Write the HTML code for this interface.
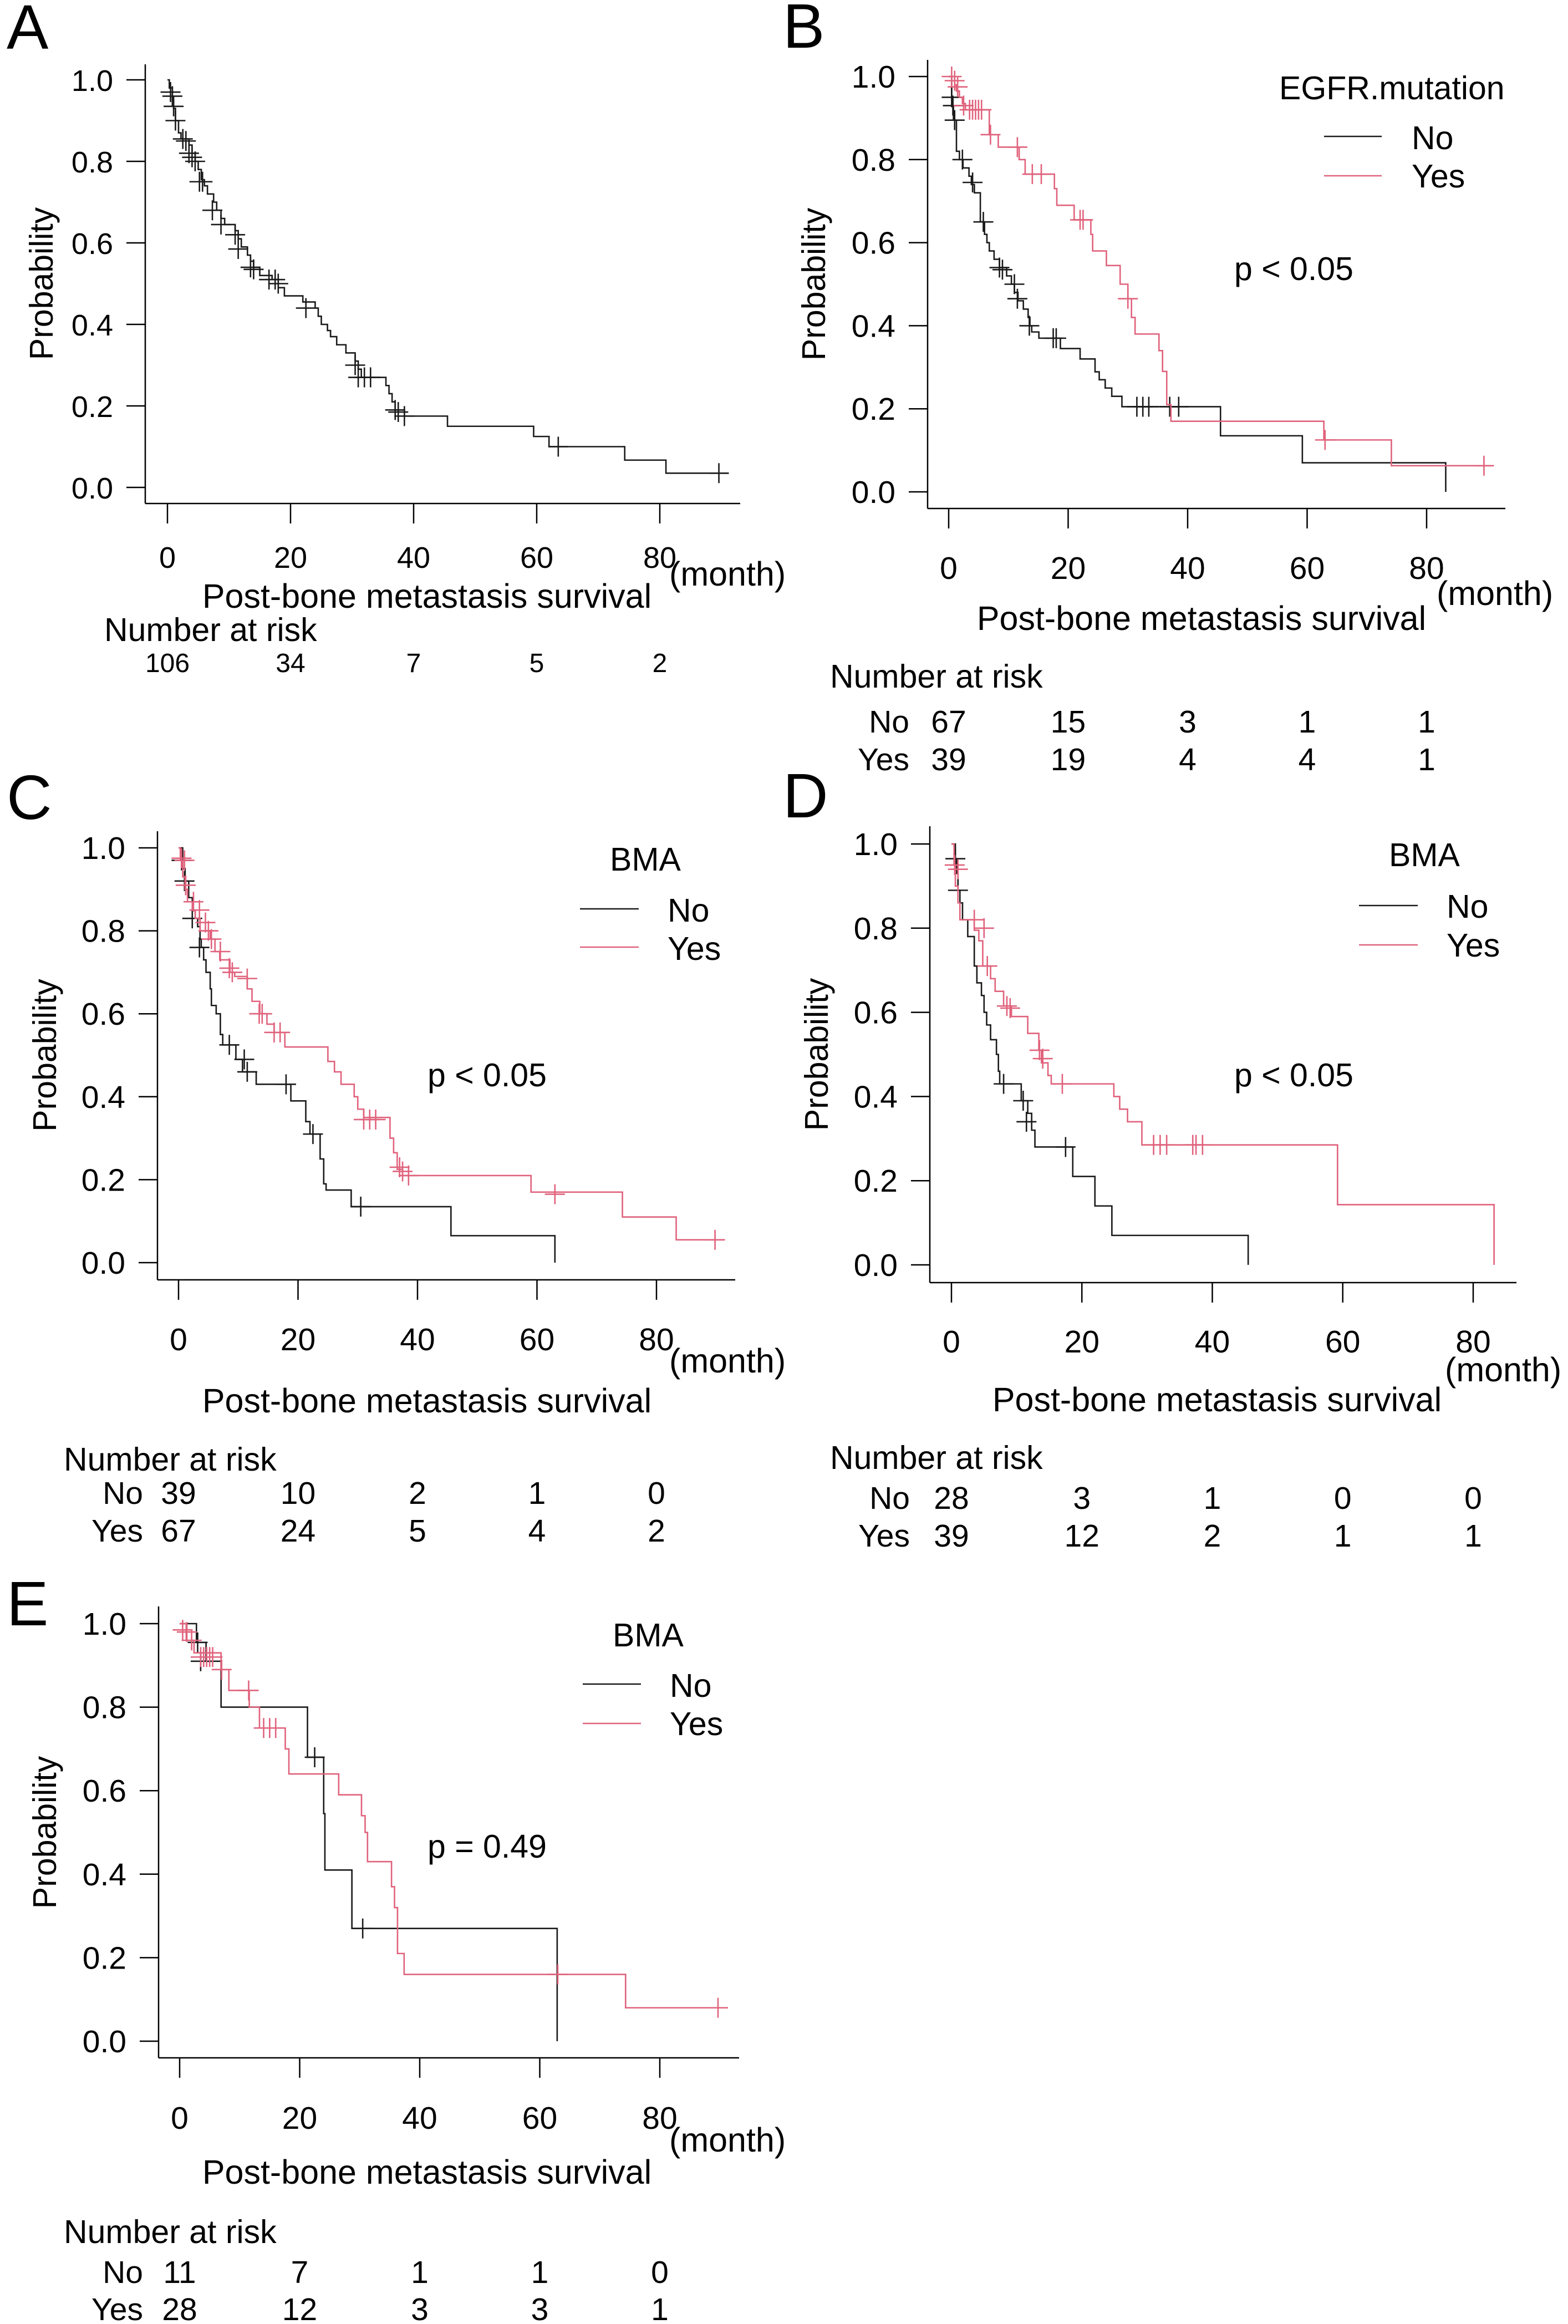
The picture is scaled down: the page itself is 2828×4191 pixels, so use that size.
<!DOCTYPE html>
<html><head><meta charset="utf-8">
<style>
html,body{margin:0;padding:0;background:#fff;}
svg{display:block;}
text{font-family:"Liberation Sans",Arial,sans-serif;fill:#000;}
</style></head>
<body>
<svg id="fig" xmlns="http://www.w3.org/2000/svg" width="2828" height="4191" viewBox="0 0 2828 4191"></svg>
<script>
// ---------- data ----------
const xTickVals=[0,20,40,60,80];
const yTickVals=[0,0.2,0.4,0.6,0.8,1.0];
const yTickLabels=["0.0","0.2","0.4","0.6","0.8","1.0"];
const groupNames=["No","Yes"];

// Panel A (all patients)
const aTimes=[0.3,0.8,1.0,1.3,1.8,2.2,3.5,4,4.5,5,5.5,6,6.5,7.5,8,8.7,9.3,11,11.5,12,13,13.5,14,15,17,18,19,22,24,24.5,25,26,26.5,27.5,29,30.5,31,31.5,35.5,36,36.5,37,38.5,45.5,59.5,62,74.3,81];
const aSurv=[0.98,0.95,0.93,0.90,0.87,0.855,0.84,0.82,0.80,0.78,0.755,0.74,0.72,0.70,0.68,0.66,0.645,0.63,0.61,0.59,0.57,0.555,0.54,0.52,0.51,0.49,0.47,0.455,0.44,0.42,0.40,0.385,0.37,0.35,0.33,0.31,0.29,0.27,0.25,0.23,0.21,0.19,0.175,0.15,0.125,0.10,0.067,0.035];
const aEnd=91;
const aCensT=[0.5,0.8,1,1.3,2.5,3,3.5,4,4.5,5.2,5.7,7.3,8.7,11,11.5,13.5,14,16.5,17.5,18,22.5,30.5,31,32,33,37,37.5,38.5,63.5,89.6];
const aCensS=[0.97,0.96,0.935,0.90,0.855,0.85,0.82,0.81,0.80,0.75,0.75,0.68,0.645,0.62,0.585,0.54,0.535,0.51,0.51,0.50,0.44,0.30,0.27,0.27,0.27,0.19,0.185,0.175,0.10,0.035];
const aRisk=[106,34,7,5,2];

// Panel B (EGFR mutation)
const bNoTimes=[0.5,0.7,0.8,1.3,1.8,2.4,3.4,3.8,4.3,5.3,6,6.4,6.8,7.6,8.5,9.7,10.5,11,11.6,12.5,13.3,13.6,13.9,15.1,18.7,22,24.5,25.2,26.2,27.3,29,45.5,59.2,83.2];
const bNoSurv=[0.95,0.93,0.895,0.82,0.80,0.78,0.76,0.74,0.72,0.65,0.62,0.60,0.58,0.56,0.54,0.52,0.50,0.48,0.46,0.44,0.42,0.40,0.385,0.37,0.345,0.32,0.289,0.27,0.25,0.23,0.205,0.135,0.07,0];
const bNoEnd=83.2;
const bNoCensT=[0.5,0.7,1,2.3,4,5.8,8.5,9,11,11.5,13.5,17.5,18,31.5,32.5,33.5,37,38.5];
const bNoCensS=[0.95,0.93,0.895,0.80,0.745,0.65,0.54,0.535,0.50,0.465,0.40,0.37,0.37,0.205,0.205,0.205,0.205,0.205];
const bYesTimes=[1.0,1.3,1.8,2.3,2.8,6.8,8.3,11.8,12.8,17.7,18.1,21,23.8,24.1,26.4,28.7,30,30.6,31.2,35.2,35.8,36.5,37.2,62.8,74.1];
const bYesSurv=[0.98,0.965,0.95,0.935,0.92,0.86,0.83,0.80,0.765,0.73,0.69,0.655,0.62,0.58,0.545,0.50,0.465,0.42,0.38,0.34,0.29,0.21,0.17,0.125,0.063];
const bYesEnd=91;
const bYesCensT=[0.5,1,1.5,2.5,3.5,4,4.5,5,5.5,7,11.5,14,15.5,22,22.5,30,63,89.6];
const bYesCensS=[1.0,0.99,0.975,0.93,0.92,0.92,0.92,0.92,0.92,0.86,0.83,0.765,0.765,0.655,0.655,0.465,0.125,0.063];
const bRiskNo=[67,15,3,1,1];
const bRiskYes=[39,19,4,4,1];

// Panel C (BMA, all)
const cNoTimes=[0.7,1.1,1.7,2.3,2.8,3.2,3.6,3.8,4.2,4.6,5.3,5.5,6.3,7,7.4,9.6,10.7,13,18.8,21.3,22,23.7,24.3,24.7,28.9,45.6,63];
const cNoSurv=[0.95,0.92,0.88,0.85,0.83,0.81,0.78,0.76,0.73,0.70,0.66,0.62,0.60,0.55,0.525,0.49,0.46,0.43,0.39,0.34,0.31,0.25,0.19,0.175,0.135,0.065,0];
const cNoEnd=63;
const cNoCensT=[0.5,1,2.3,3.5,8.5,11,11.5,18,22.5,30.5];
const cNoCensS=[0.97,0.92,0.83,0.76,0.525,0.49,0.46,0.43,0.31,0.135];
const cYesTimes=[0.3,0.7,1.1,1.5,2.3,2.8,3.6,5.3,6.1,6.9,8.6,9.4,11.5,12.3,13.6,14.8,16,17.8,25,26.1,27.2,29.4,30,31,35.4,36,36.6,37.5,59,74.3,83.3];
const cYesSurv=[0.97,0.93,0.90,0.87,0.85,0.83,0.80,0.78,0.75,0.73,0.70,0.69,0.66,0.63,0.60,0.575,0.555,0.52,0.485,0.46,0.43,0.40,0.37,0.35,0.30,0.265,0.225,0.21,0.17,0.11,0.055];
const cYesEnd=91.2;
const cYesCensT=[0.5,1,1.2,2.5,3.5,4.5,5,5.5,7,8.5,9,11.5,13.5,14,16,17,31,32,33,37,37.5,38.5,63,89.8];
const cYesCensS=[0.975,0.97,0.91,0.87,0.85,0.82,0.80,0.78,0.75,0.71,0.70,0.685,0.60,0.60,0.555,0.555,0.345,0.345,0.345,0.23,0.22,0.21,0.165,0.055];
const cRiskNo=[39,10,2,1,0];
const cRiskYes=[67,24,5,4,2];

// Panel D
const dNoTimes=[0.6,0.8,1,1.3,1.7,2.5,3.5,3.9,4.6,5,5.4,6,6.9,7.2,7.4,10.7,11.7,12.3,12.8,18.6,22,24.6,45.5];
const dNoSurv=[0.965,0.93,0.89,0.86,0.82,0.78,0.71,0.67,0.64,0.60,0.57,0.535,0.50,0.46,0.43,0.39,0.36,0.32,0.28,0.21,0.14,0.07,0];
const dNoEnd=45.5;
const dNoCensT=[0.6,1,8,11,11.5,17.5];
const dNoCensS=[0.965,0.89,0.43,0.39,0.34,0.28];
const dYesTimes=[0.4,0.6,1,1.3,3.5,4.2,4.8,6,6.7,8,9.2,11.7,13.4,13.8,14.8,15.3,24.9,25.8,27,29.2,59.2,83.2];
const dYesSurv=[0.95,0.90,0.86,0.82,0.795,0.77,0.71,0.68,0.65,0.615,0.59,0.55,0.51,0.48,0.45,0.43,0.40,0.37,0.34,0.285,0.143,0];
const dYesEnd=83.2;
const dYesCensT=[0.5,1,3.5,5,5.5,8.5,9,13.5,14,17,31,32,33,37,37.5,38.5];
const dYesCensS=[0.95,0.94,0.82,0.80,0.71,0.615,0.61,0.51,0.49,0.43,0.285,0.285,0.285,0.285,0.285,0.285];
const dRiskNo=[28,3,1,0,0];
const dRiskYes=[39,12,2,1,1];

// Panel E
const eNoTimes=[2.8,4.4,6.9,21.3,24,24.2,28.7,62.9];
const eNoSurv=[0.955,0.91,0.80,0.68,0.545,0.41,0.27,0];
const eNoEnd=62.9;
const eNoCensT=[3,3.5,22.5,30.5];
const eNoCensS=[0.955,0.91,0.68,0.27];
const eYesTimes=[1.1,2.4,6.9,8.2,11.6,13.3,17.6,18.2,26.5,30.3,30.9,31.3,35.3,35.8,36.3,37.4,74.3];
const eYesSurv=[0.96,0.93,0.89,0.84,0.80,0.75,0.70,0.64,0.59,0.54,0.50,0.43,0.37,0.32,0.21,0.16,0.08];
const eYesEnd=91.2;
const eYesCensT=[0.5,1.2,2,3.5,4,4.5,5,5.5,7,11.5,14,15,16,63,89.7];
const eYesCensS=[0.985,0.98,0.96,0.92,0.92,0.92,0.92,0.92,0.89,0.84,0.75,0.75,0.75,0.16,0.08];
const eRiskNo=[11,7,1,1,0];
const eRiskYes=[28,12,3,3,1];

// ---------- drawing ----------
const NS="http://www.w3.org/2000/svg";
const svg=document.getElementById('fig');
const RED="#e0627c", BLK="#1a1a1a";
function mk(tag,attrs,parent){const e=document.createElementNS(NS,tag);for(const k in attrs)e.setAttribute(k,attrs[k]);(parent||svg).appendChild(e);return e;}
function txt(s,x,y,size,anchor,parent){const t=mk('text',{x:x,y:y,'font-size':size,'text-anchor':anchor||'start'},parent);t.textContent=s;return t;}

function panel(g){
  const G=mk('g',{});
  
  
  const sx=t=>g.x0+(g.x80-g.x0)*t/80;
  const sy=s=>g.y0+(g.y1-g.y0)*s;
  const fs=g.fs||57;
  const L=txt(g.letter,g.lx,g.ly,113,'start',G);
  
  
  const ya=mk('line',{x1:g.ax,y1:g.top,x2:g.ax,y2:g.axY,stroke:'#000','stroke-width':2.5},G);
  
  
  const xa=mk('line',{x1:g.ax,y1:g.axY,x2:g.right,y2:g.axY,stroke:'#000','stroke-width':2.5},G);
  
  
  yTickVals.forEach((v,i)=>{
    const y=sy(v);
    mk('line',{x1:g.ax-34,y1:y,x2:g.ax,y2:y,stroke:'#000','stroke-width':2.5},G);
    const t=txt(yTickLabels[i],g.ax-58,y+20,fs,'end',G);
    
    
  });
  xTickVals.forEach(v=>{
    const x=sx(v);
    mk('line',{x1:x,y1:g.axY,x2:x,y2:g.axY+36,stroke:'#000','stroke-width':2.5},G);
    const t=txt(String(v),x,g.tickY,fs,'middle',G);
    
    
  });
  const yl=txt('Probability',0,0,59,'middle',G);
  yl.setAttribute('transform','translate('+g.ylx+','+((g.y0+g.y1)/2)+') rotate(-90)');
  
  
  const xl=txt('Post-bone metastasis survival',g.xlx,g.xly,61,'middle',G);
  
  
  const mo=txt('(month)',g.mx,g.my,61,'start',G);
  
  
  g.series.forEach(s=>{
    let d='M'+sx(0)+','+sy(1);
    s.t.forEach((t,i)=>{d+=' H'+sx(t)+' V'+sy(s.s[i]);});
    d+=' H'+sx(s.end);
    const p=mk('path',{d:d,fill:'none',stroke:s.color,'stroke-width':2.6},G);
    
    
    s.ct.forEach((t,i)=>{
      const x=sx(t),y=sy(s.cs[i]);
      const c=mk('path',{d:'M'+(x-18)+','+y+' H'+(x+18)+' M'+x+','+(y-18)+' V'+(y+18),stroke:s.color,'stroke-width':2.6},G);
      
      
    });
  });
  if(g.leg){
    const lt=txt(g.leg.title,g.leg.tx,g.leg.ty,59,'start',G);
    
    
    [[BLK,0],[RED,1]].forEach(([col,i])=>{
      const ln=mk('line',{x1:g.leg.lx1,x2:g.leg.lx2,y1:g.leg.ly[i],y2:g.leg.ly[i],stroke:col,'stroke-width':2.6},G);
      
      
      const t=txt(groupNames[i],g.leg.nx,g.leg.nb[i],59,'start',G);
      
      
    });
  }
  if(g.p){
    const pt=txt(g.p.s,g.p.x,g.p.y,59,'start',G);
    
    
  }
  const nr=txt('Number at risk',g.nrx,g.nry,59,'start',G);
  
  
  g.risk.forEach((row,ri)=>{
    if(row.label){
      const rl=txt(row.label,g.rlx,g.rowY[ri],57,'end',G);
      
      
    }
    row.vals.forEach((v,i)=>{
      const t=txt(String(v),sx(xTickVals[i]),g.rowY[ri],g.rfs||57,'middle',G);
      
      
    });
  });
}

panel({letter:'A',lx:12,ly:88,ax:262,top:116,axY:908,right:1335,x0:302,x80:1190,y1:144,y0:879,tickY:1024,ylx:95,xlx:770,xly:1096,mx:1207,my:1056,fs:54,
  series:[{name:'all',color:BLK,t:aTimes,s:aSurv,end:aEnd,ct:aCensT,cs:aCensS}],
  nrx:188,nry:1156,rowY:[1212],rlx:0,rfs:48,risk:[{label:'',vals:aRisk}]});

panel({letter:'B',lx:1412,ly:86,ax:1673,top:108,axY:917,right:2715,x0:1711,x80:2573,y1:138,y0:887,tickY:1044,ylx:1488,xlx:2167,xly:1136,mx:2591,my:1091,
  series:[{name:'no',color:BLK,t:bNoTimes,s:bNoSurv,end:bNoEnd,ct:bNoCensT,cs:bNoCensS},{name:'yes',color:RED,t:bYesTimes,s:bYesSurv,end:bYesEnd,ct:bYesCensT,cs:bYesCensS}],
  leg:{title:'EGFR.mutation',tx:2307,ty:179,lx1:2388,lx2:2492,ly:[246,317],nx:2546,nb:[269,338]},
  p:{s:'p < 0.05',x:2226,y:505},
  nrx:1497,nry:1240,rowY:[1321,1389],rlx:1640,risk:[{label:'No',vals:bRiskNo},{label:'Yes',vals:bRiskYes}]});

panel({letter:'C',lx:12,ly:1477,ax:284,top:1499,axY:2308,right:1326,x0:322,x80:1184,y1:1529,y0:2277,tickY:2435,ylx:101,xlx:770,xly:2547,mx:1207,my:2475,
  series:[{name:'no',color:BLK,t:cNoTimes,s:cNoSurv,end:cNoEnd,ct:cNoCensT,cs:cNoCensS},{name:'yes',color:RED,t:cYesTimes,s:cYesSurv,end:cYesEnd,ct:cYesCensT,cs:cYesCensS}],
  leg:{title:'BMA',tx:1100,ty:1570,lx1:1046,lx2:1152,ly:[1639,1708],nx:1204,nb:[1662,1731]},
  p:{s:'p < 0.05',x:771,y:1959},
  nrx:115,nry:2652,rowY:[2712,2780],rlx:258,risk:[{label:'No',vals:cRiskNo},{label:'Yes',vals:cRiskYes}]});

panel({letter:'D',lx:1412,ly:1474,ax:1677,top:1490,axY:2313,right:2735,x0:1716,x80:2657,y1:1522,y0:2281,tickY:2439,ylx:1493,xlx:2195,xly:2545,mx:2606,my:2491,
  series:[{name:'no',color:BLK,t:dNoTimes,s:dNoSurv,end:dNoEnd,ct:dNoCensT,cs:dNoCensS},{name:'yes',color:RED,t:dYesTimes,s:dYesSurv,end:dYesEnd,ct:dYesCensT,cs:dYesCensS}],
  leg:{title:'BMA',tx:2505,ty:1562,lx1:2451,lx2:2557,ly:[1633,1704],nx:2609,nb:[1655,1725]},
  p:{s:'p < 0.05',x:2226,y:1959},
  nrx:1497,nry:2649,rowY:[2721,2789],rlx:1641,risk:[{label:'No',vals:dRiskNo},{label:'Yes',vals:dRiskYes}]});

panel({letter:'E',lx:12,ly:2931,ax:286,top:2897,axY:3711,right:1333,x0:324,x80:1190,y1:2928,y0:3681,tickY:3839,ylx:101,xlx:770,xly:3938,mx:1207,my:3880,
  series:[{name:'no',color:BLK,t:eNoTimes,s:eNoSurv,end:eNoEnd,ct:eNoCensT,cs:eNoCensS},{name:'yes',color:RED,t:eYesTimes,s:eYesSurv,end:eYesEnd,ct:eYesCensT,cs:eYesCensS}],
  leg:{title:'BMA',tx:1105,ty:2969,lx1:1051,lx2:1156,ly:[3037,3108],nx:1208,nb:[3060,3129]},
  p:{s:'p = 0.49',x:771,y:3350},
  nrx:115,nry:4045,rowY:[4117,4184],rlx:258,risk:[{label:'No',vals:eRiskNo},{label:'Yes',vals:eRiskYes}]});
</script>
</body></html>
